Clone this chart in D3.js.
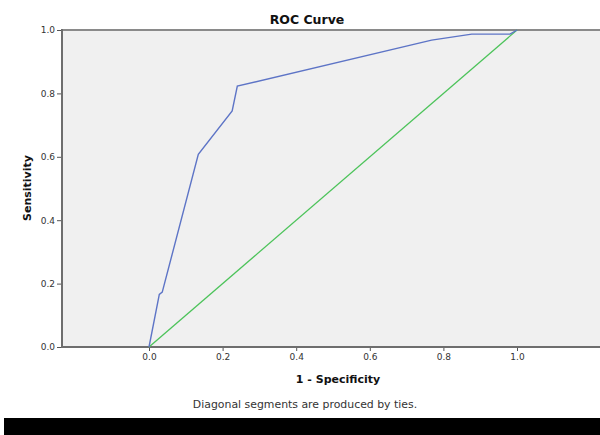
<!DOCTYPE html>
<html lang='en'>
<head>
    <meta charset='UTF-8'>
    <script src='https://d3js.org/d3.v7.min.js'></script>
    <title>ROC Curve</title>
    <style>
      body { margin:0; background:#fff; }
      text { font-family: 'DejaVu Sans', Verdana, sans-serif; }
    </style>
</head>
<body>
<svg id='roc' width='600' height='435'></svg>

<script>
// ROC points
let fpr = [0, 0.028, 0.036, 0.134, 0.226, 0.240, 0.768, 0.877, 0.981, 1]
let tpr = [0, 0.166, 0.173, 0.608, 0.745, 0.823, 0.968, 0.987, 0.987, 1]
let refLine = [0, 1]
let tickVals = [0, 0.2, 0.4, 0.6, 0.8, 1.0]

;(function (){
    let svg = d3.select('#roc')

    // plot box spans a bit more than 0..1 on x, like the SPSS output
    let xScale = d3.scaleLinear().domain([0,1]).range([149,517])
    let yScale = d3.scaleLinear().domain([0,1]).range([347,30])
    let left = 62, right = 600, top = 30, bottom = 347

    svg.append('rect')
      .attr('x', left).attr('y', top)
      .attr('width', right - left).attr('height', bottom - top)
      .style('fill', '#f0f0f0')

    // top border
    svg.append('line')
      .attr('x1', left).attr('x2', right).attr('y1', top).attr('y2', top)
      .style('stroke', '#8a8a8a').style('stroke-width', '2px')

    // x axis
    let xAxis = d3.axisBottom(xScale).tickValues(tickVals).tickFormat(d3.format('.1f'))
      .tickSizeInner(4).tickSizeOuter(0).tickPadding(3)
    let gx = svg.append('g').attr('transform', `translate(0,${bottom})`).call(xAxis)
    gx.select('.domain').remove()
    gx.append('line').attr('x1', left).attr('x2', right)
      .style('stroke', '#6e6e6e').style('stroke-width', '2px')

    // y axis
    let yAxis = d3.axisLeft(yScale).tickValues(tickVals).tickFormat(d3.format('.1f'))
      .tickSizeInner(5).tickSizeOuter(0).tickPadding(2)
    let gy = svg.append('g').attr('transform', `translate(${left},0)`).call(yAxis)
    gy.select('.domain').remove()
    gy.append('line').attr('y1', top - 1).attr('y2', bottom + 1)
      .style('stroke', '#6e6e6e').style('stroke-width', '2px')

    svg.selectAll('.tick line').style('stroke', '#555')
    svg.selectAll('.tick text').style('fill', '#333').style('font-size', '9px')
      .style('font-family', "'DejaVu Sans', Verdana, sans-serif")

    // reference diagonal
    svg.append('line')
      .attr('x1', xScale(refLine[0])).attr('y1', yScale(refLine[0]))
      .attr('x2', xScale(refLine[1])).attr('y2', yScale(refLine[1]))
      .style('stroke', '#4cc35a').style('stroke-width', '1.3px')

    // roc curve
    let line = d3.line().x(d => xScale(d[0])).y(d => yScale(d[1]))
    svg.append('path')
      .datum(fpr.map((f, i) => [f, tpr[i]]))
      .attr('d', line)
      .style('fill', 'none')
      .style('stroke', '#5d74c6')
      .style('stroke-width', '1.4px')

    // titles
    svg.append('text').text('ROC Curve')
      .attr('x', 307).attr('y', 24).attr('text-anchor', 'middle')
      .style('font-weight', 'bold').style('font-size', '12.5px').style('fill', '#111')

    svg.append('text').text('1 - Specificity')
      .attr('x', 338).attr('y', 383).attr('text-anchor', 'middle')
      .style('font-weight', 'bold').style('font-size', '11px').style('fill', '#111')

    svg.append('text').text('Sensitivity')
      .attr('transform', 'translate(31,188) rotate(-90)').attr('text-anchor', 'middle')
      .style('font-weight', 'bold').style('font-size', '11px').style('fill', '#111')

    svg.append('text').text('Diagonal segments are produced by ties.')
      .attr('x', 305).attr('y', 408).attr('text-anchor', 'middle')
      .style('font-size', '10.9px').style('fill', '#333')

    // black strip at the bottom of the screenshot
    svg.append('rect').attr('x', 4).attr('y', 418).attr('width', 596).attr('height', 17)
      .style('fill', '#000')
}) ()
</script>
</body>
</html>
